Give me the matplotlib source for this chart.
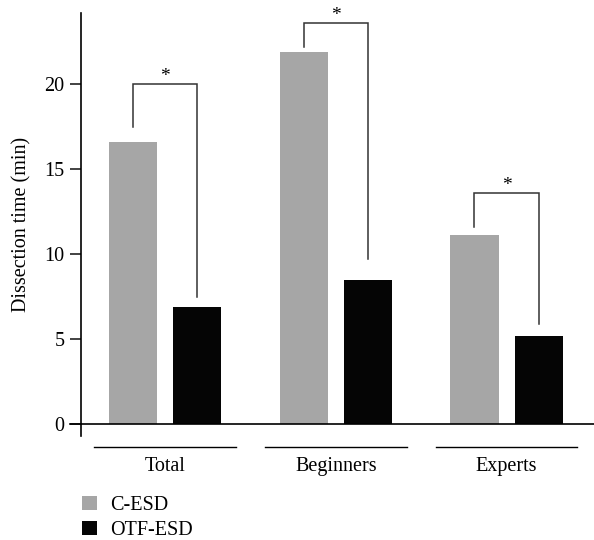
import matplotlib
matplotlib.use("Agg")
import matplotlib.pyplot as plt
import numpy as np

groups = ["Total", "Beginners", "Experts"]
c_esd = [16.6, 21.9, 11.1]
otf_esd = [6.9, 8.5, 5.2]
series_names = ["C-ESD", "OTF-ESD"]
# significance brackets: left start, top, right end
br_left = [17.5, 22.2, 11.6]
br_top = [20.0, 23.6, 13.6]
br_right = [7.5, 9.7, 5.9]
yticks = [0, 5, 10, 15, 20]

plt.rcParams['font.family'] = ['Liberation Serif', 'DejaVu Serif']
fig = plt.figure(figsize=(5.94, 5.40), dpi=100)
ax = fig.add_axes([81/594, 1-436/540, 1-81/594, (436-13)/540])

x = np.arange(len(groups))
w = 0.282
off = 0.188
ax.bar(x - off, c_esd, width=w, color="#a6a6a6", label=series_names[0])
ax.bar(x + off, otf_esd, width=w, color="#050505", label=series_names[1])

for i in range(len(groups)):
    xl, xr = x[i] - off, x[i] + off
    ax.plot([xl, xl, xr, xr], [br_left[i], br_top[i], br_top[i], br_right[i]],
            color="#333333", lw=1.1, solid_joinstyle='miter')
    ax.text(x[i], br_top[i] - 0.05, "*", ha="center", va="bottom", fontsize=14)

ax.set_xlim(-0.492, 2.512)
ax.set_ylim(-0.7, 24.18)
ax.axhline(0, color="black", lw=1.2)
ax.plot([-0.492 - 11/170.75, -0.492], [0, 0], color="black", lw=1.2, clip_on=False)

for s in ["top", "right", "bottom"]:
    ax.spines[s].set_visible(False)
ax.spines["left"].set_linewidth(1.2)
ax.set_yticks(yticks)
ax.set_yticklabels([str(t) for t in yticks], fontsize=14.5)
ax.tick_params(axis="y", length=8, width=1.2, pad=4, color="#222222")
ax.set_xticks([])
ax.set_ylabel("Dissection time (min)", fontsize=14.5, labelpad=9)

for i, g in enumerate(groups):
    ax.plot([x[i] - 0.415, x[i] + 0.415], [-1.35, -1.35], color="black", lw=1.0, clip_on=False)
    ax.text(x[i], -2.5, g, ha="center", va="center", fontsize=14.5)

ax.legend(loc="upper left", bbox_to_anchor=(82/594, 1-496/540), bbox_transform=fig.transFigure,
          frameon=False, fontsize=14.5, handlelength=0.72, handleheight=0.72,
          handletextpad=0.7, labelspacing=0.28, borderaxespad=0, borderpad=0)

fig.savefig("out.png", dpi=100)
